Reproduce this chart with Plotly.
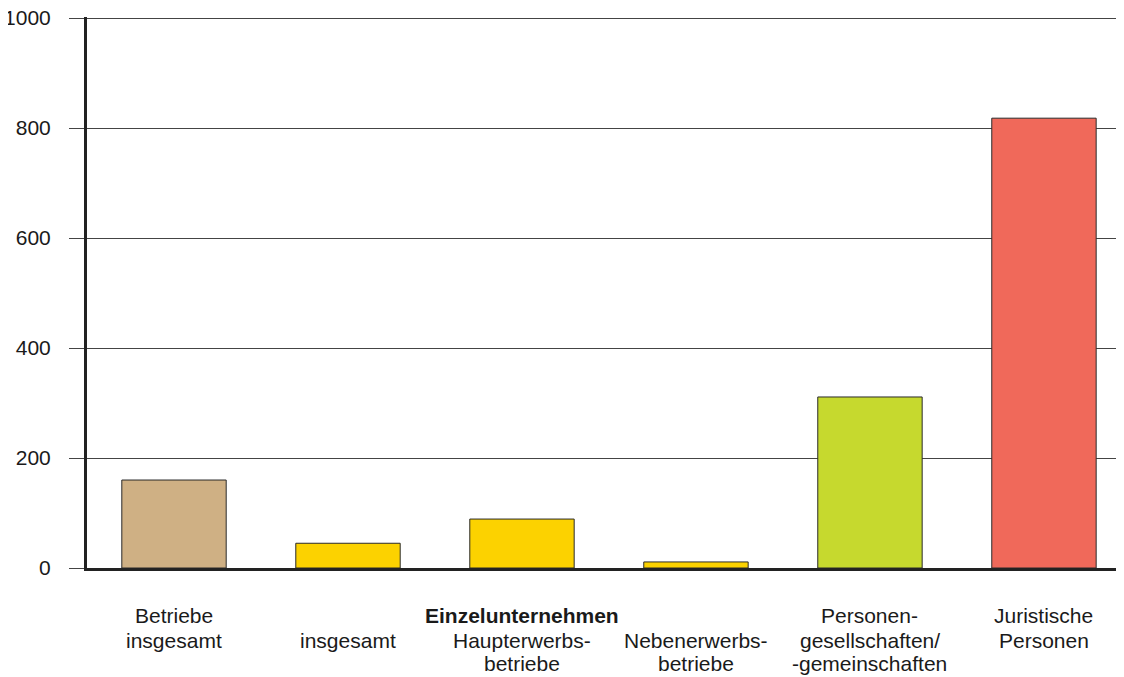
import plotly.graph_objects as go

categories = ["Betriebe insgesamt", "Einzelunternehmen insgesamt", "Haupterwerbsbetriebe",
              "Nebenerwerbsbetriebe", "Personengesellschaften", "Juristische Personen"]
values = [160, 45, 89, 11, 311, 818]
bar_colors = ["#CFB084", "#FCD200", "#FCD200", "#FCD200", "#C6D92E", "#F0695A"]
label_lines = [
    ["Betriebe", "insgesamt", ""],
    ["", "insgesamt", ""],
    ["", "Haupterwerbs-", "betriebe"],
    ["", "Nebenerwerbs-", "betriebe"],
    ["Personen-", "gesellschaften/", "-gemeinschaften"],
    ["Juristische", "Personen", ""],
]
group_label = "Einzelunternehmen"
group_index = 2
y_ticks = [0, 200, 400, 600, 800, 1000]

FONT = "Liberation Sans, Arial, sans-serif"
FS = 21
OFF = 8  # page body margin offset

fig = go.Figure()
fig.add_trace(go.Bar(
    x=categories, y=values, width=0.6,
    marker=dict(color=bar_colors, line=dict(color="#2a2a2a", width=1)),
    hoverinfo="skip",
))

plot_top, plot_bottom = 17 - OFF, 568 - OFF
plot_h = plot_bottom - plot_top
row_y = [615 - OFF, 640 - OFF, 663 - OFF]

annotations = []
for i, lines in enumerate(label_lines):
    for r, txt in enumerate(lines):
        if not txt:
            continue
        annotations.append(dict(
            x=categories[i], xref="x", y=(plot_bottom - row_y[r]) / plot_h, yref="paper",
            text=txt, showarrow=False, xanchor="center", yanchor="middle",
            font=dict(family=FONT, size=FS, color="#1a1a1a"),
        ))
annotations.append(dict(
    x=categories[group_index], xref="x", y=(plot_bottom - row_y[0]) / plot_h, yref="paper",
    text="<b>" + group_label + "</b>", showarrow=False, xanchor="center", yanchor="middle",
    font=dict(family=FONT, size=FS, color="#1a1a1a"),
))

fig.update_layout(
    width=1124 - OFF, height=677 - OFF,
    margin=dict(l=87 - OFF, r=0, t=plot_top, b=(677 - OFF) - plot_bottom, autoexpand=False),
    paper_bgcolor="white", plot_bgcolor="white",
    showlegend=False,
    annotations=annotations,
    xaxis=dict(
        type="category", range=[-0.5, 5.46], showticklabels=False, ticks="",
        showgrid=False, showline=True, linecolor="#222222", linewidth=3,
        zeroline=False, fixedrange=True, automargin=False,
    ),
    yaxis=dict(
        range=[0, 1002], tickvals=y_ticks, ticktext=[str(v) for v in y_ticks],
        showgrid=True, gridcolor="#444444", gridwidth=1,
        ticks="outside", ticklen=15, tickcolor="#444444", tickwidth=1,
        ticklabelstandoff=14, ticklabeloverflow="allow", automargin=False,
        showline=True, linecolor="#222222", linewidth=3,
        zeroline=False,
        tickfont=dict(family=FONT, size=FS, color="#1a1a1a"),
    ),
)

fig.write_html("out.html")
